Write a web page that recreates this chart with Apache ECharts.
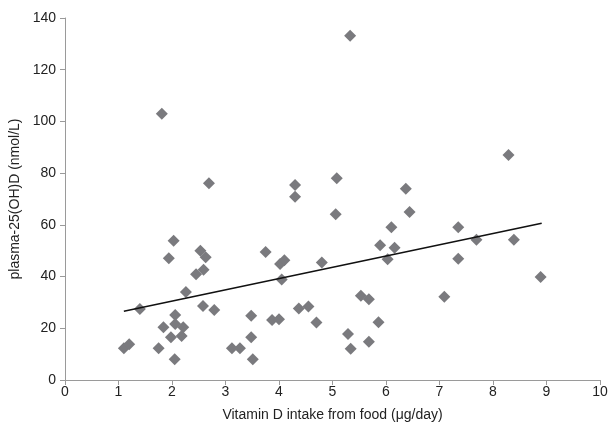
<!DOCTYPE html>
<html><head><meta charset="utf-8">
<script src="https://cdn.jsdelivr.net/npm/echarts@6/dist/echarts.min.js"></script>
<style>html,body{margin:0;padding:0;background:#fff}#c{width:611px;height:423px}</style>
</head><body><div id="c"></div>
<script>
const intake = [1.81,2.69,4.30,4.30,5.08,5.33,8.29,6.37,5.06,2.03,1.94,2.53,2.63,2.45,2.59,3.75,4.02,4.10,4.05,4.80,2.26,1.40,1.10,1.20,1.75,1.84,2.06,2.06,2.21,2.18,1.98,2.05,2.58,2.79,3.48,3.48,3.12,3.27,3.51,3.87,4.00,4.37,4.55,4.70,6.44,6.10,5.89,6.16,6.03,7.35,7.69,8.39,7.35,8.89,7.09,5.53,5.68,5.86,5.29,5.68,5.34];
const plasma = [103,76.1,75.4,70.9,78,133.1,87,74,64.1,53.9,47.1,50,47.5,40.9,42.6,49.5,44.9,46.3,38.9,45.4,34,27.5,12.3,13.8,12.3,20.4,25.1,21.7,20.4,17,16.5,8,28.6,27.1,24.8,16.5,12.3,12.3,8,23.2,23.5,27.7,28.4,22.2,65,59.1,52.1,51.1,46.7,59.1,54.2,54.2,46.9,39.8,32.2,32.6,31.2,22.3,17.8,14.8,12.1];
const trendX = [1.10, 8.91];
const trendY = [26.6, 60.6];
const xTicks = [0,1,2,3,4,5,6,7,8,9,10];
const yTicks = [0,20,40,60,80,100,120,140];

const pts = intake.map((x,i)=>[x,plasma[i]]);
const trend = trendX.map((x,i)=>[x,trendY[i]]);
const font = 'Liberation Sans, Arial, sans-serif';
const chart = echarts.init(document.getElementById('c'));
chart.setOption({
  animation:false,
  grid:{left:65,right:11,top:18,bottom:43,outerBoundsMode:'none',containLabel:false},
  xAxis:{type:'value',min:xTicks[0],max:xTicks[xTicks.length-1],interval:1,
    name:'Vitamin D intake from food (μg/day)',nameLocation:'middle',nameGap:28,
    nameTextStyle:{fontFamily:font,fontSize:14,color:'#222'},
    axisLine:{lineStyle:{color:'#9a9a9a',width:1}},axisTick:{show:true,length:5,lineStyle:{color:'#9a9a9a'}},
    axisLabel:{fontFamily:font,fontSize:14,color:'#222',margin:5},
    splitLine:{show:false}},
  yAxis:{type:'value',min:yTicks[0],max:yTicks[yTicks.length-1],interval:20,
    name:'plasma-25(OH)D (nmol/L)',nameLocation:'middle',nameGap:37,
    nameTextStyle:{fontFamily:font,fontSize:14,color:'#222'},
    axisLine:{show:true,lineStyle:{color:'#9a9a9a',width:1}},axisTick:{show:true,length:5,lineStyle:{color:'#9a9a9a'}},
    axisLabel:{fontFamily:font,fontSize:14,color:'#222',margin:9},
    splitLine:{show:false}},
  series:[
    {type:'scatter',data:pts,symbol:'diamond',symbolSize:12,itemStyle:{color:'#7a7a7e',opacity:1},z:2},
    {type:'line',data:trend,symbol:'none',lineStyle:{color:'#111',width:1.6},z:3}
  ]
});
</script></body></html>
